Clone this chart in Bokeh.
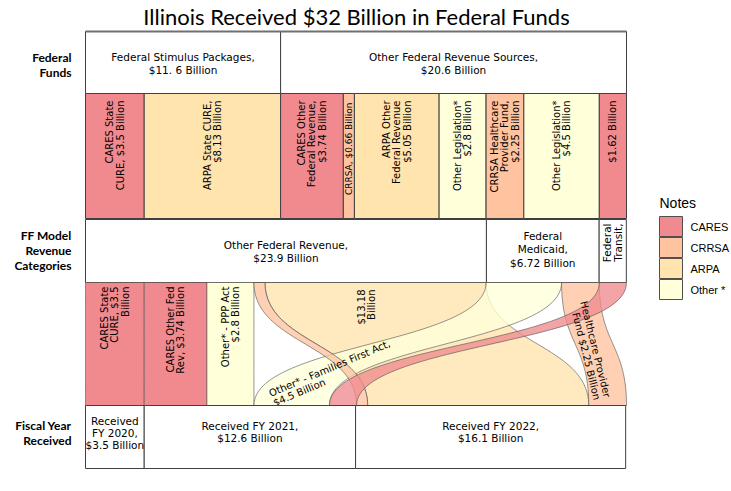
import numpy as np
from bokeh.plotting import figure
from bokeh.models import Range1d
from bokeh.embed import file_html
from bokeh.resources import INLINE
from bokeh.core.properties import value

# ---------------- data ----------------
chart_title = "Illinois Received $32 Billion in Federal Funds"
row_labels = ["Federal\nFunds", "FF Model\nRevenue\nCategories", "Fiscal Year\nReceived"]

fund_labels = ["Federal Stimulus Packages,\n$11. 6 Billion",
               "Other Federal Revenue Sources,\n$20.6 Billion"]
fund_values = [11.63, 20.62]

leg_labels = ["CARES State\nCURE, $3.5 Billion",
              "ARPA State CURE,\n$8.13 Billion",
              "CARES Other\nFederal Revenue,\n$3.74 Billion",
              "CRRSA, $0.66 Billion",
              "ARPA Other\nFederal Revenue\n$5.05 Billion",
              "Other Legislation*\n$2.8 Billion",
              "CRRSA Healthcare\nProvider Fund,\n$2.25 Billion",
              "Other Legislation*\n$4.5 Billion",
              "$1.62 Billion"]
leg_values = [3.5, 8.13, 3.74, 0.66, 5.05, 2.8, 2.25, 4.5, 1.62]
leg_program = ["CARES", "ARPA", "CARES", "CRRSA", "ARPA", "Other *", "CRRSA", "Other *", "CARES"]

cat_labels = ["Other Federal Revenue,\n$23.9 Billion",
              "Federal\nMedicaid,\n$6.72 Billion",
              "Federal\nTransit,"]
cat_values = [23.9, 6.72, 1.62]

flow_labels = ["CARES State\nCURE, $3.5\nBillion",
               "CARES Other Fed\nRev, $3.74 Billion",
               "Other* - PPP Act\n$2.8 Billion",
               "",
               "$13.18\nBillion",
               "Other* - Families First Act,\n$4.5 Billion",
               "Healthcare Provider\nFund $2.25 Billion",
               ""]
flow_values = [3.5, 3.74, 2.8, 0.66, 13.18, 4.5, 2.25, 1.62]
flow_program = ["CARES", "CARES", "Other *", "CRRSA", "ARPA", "Other *", "CRRSA", "CARES"]
flow_year = ["FY 2020", "FY 2021", "FY 2021", "FY 2022", "FY 2022", "FY 2021", "FY 2022", "FY 2021"]
flow_bottom_order = [0, 1, 2, 5, 7, 3, 4, 6]
flow_draw_order = [0, 1, 2, 4, 5, 3, 6, 7]

fy_labels = ["Received\nFY 2020,\n$3.5 Billion",
             "Received FY 2021,\n$12.6 Billion",
             "Received FY 2022,\n$16.1 Billion"]
fy_values = [3.5, 12.6, 16.1]

legend_title = "Notes"
programs = ["CARES", "CRRSA", "ARPA", "Other *"]
program_colors = {"CARES": "#F08A8E", "CRRSA": "#FFC39F", "ARPA": "#FFE4AE", "Other *": "#FFFFDA"}

# ---------------- layout ----------------
W, H = 731, 491
LEFT_PX, RIGHT_PX = 85, 626
total = sum(leg_values)
scale = (RIGHT_PX - LEFT_PX) / total  # px per billion


def X(px):
    return (px - LEFT_PX) / scale


rows = [(31, 93), (93, 218), (219, 282), (282, 405), (405, 468)]
EDGE = "#404040"
BODY_FONT = value("DejaVu Sans")

p = figure(width=W, height=H, output_backend="svg", toolbar_location=None,
           x_range=Range1d(X(0), X(W)), y_range=Range1d(H, 0),
           min_border=0, background_fill_color="white", border_fill_color="white")
p.axis.visible = False
p.xgrid.visible = False
p.ygrid.visible = False
p.outline_line_color = None


def cum(vals):
    c = np.concatenate([[0], np.cumsum(vals)])
    return c[:-1], c[1:]


# title
p.text(x=[X(356)], y=[16], text=[chart_title], text_font=value("Lato"),
       text_font_size="22px", text_align="center", text_baseline="middle", text_color="#000000")

# row labels
p.text(x=[X(71)] * 3, y=[64, 250, 432], text=row_labels, text_font=value("Lato"),
       text_font_style="bold", text_font_size="12px", text_align="right",
       text_baseline="middle", text_line_height=1.0, text_color="#000000")

# row 1
l, r = cum(fund_values)
p.quad(left=l, right=r, top=rows[0][0], bottom=rows[0][1], fill_color="white",
       line_color=EDGE, line_width=1)
p.line(x=[l[0], r[-1]], y=[rows[0][0], rows[0][0]], line_color="#707070", line_width=2)
p.text(x=(l + r) / 2, y=[63] * 2, text=fund_labels, text_font=BODY_FONT, text_font_size="10.5px",
       text_align="center", text_baseline="middle", text_line_height=1.15, text_color="#000000")

# row 2
l, r = cum(leg_values)
p.quad(left=l, right=r, top=rows[1][0], bottom=rows[1][1],
       fill_color=[program_colors[g] for g in leg_program], line_color=EDGE, line_width=1)
big = [i for i in range(len(leg_values)) if leg_values[i] >= 1]
small = [i for i in range(len(leg_values)) if leg_values[i] < 1]
p.text(x=[(l[i] + r[i]) / 2 for i in big], y=[100] * len(big), text=[leg_labels[i] for i in big],
       angle=np.pi / 2, text_font=BODY_FONT, text_font_size="10px", text_align="right",
       text_baseline="middle", text_line_height=0.95, text_color="#000000")
p.text(x=[(l[i] + r[i]) / 2 for i in small], y=[102] * len(small), text=[leg_labels[i] for i in small],
       angle=np.pi / 2, text_font=BODY_FONT, text_font_size="9px", text_align="right",
       text_baseline="middle", text_color="#000000")

# row 3
l, r = cum(cat_values)
p.quad(left=l, right=r, top=rows[2][0], bottom=rows[2][1], fill_color="white",
       line_color=EDGE, line_width=1)
p.text(x=((l + r) / 2)[:2], y=[251, 249], text=cat_labels[:2], text_font=BODY_FONT,
       text_font_size="10.5px", text_align="center", text_baseline="middle",
       text_line_height=1.15, text_color="#000000")
p.text(x=[(l[2] + r[2]) / 2], y=[223], text=[cat_labels[2]], angle=np.pi / 2, text_font=BODY_FONT,
       text_font_size="10.5px", text_align="right", text_baseline="middle",
       text_line_height=0.95, text_color="#000000")

# row 4: flows
ft_l, ft_r = cum(flow_values)
fb_l = np.zeros(len(flow_values))
acc = 0.0
for i in flow_bottom_order:
    fb_l[i] = acc
    acc += flow_values[i]
fb_r = fb_l + np.array(flow_values)

y0, y1 = rows[3]
ym = (y0 + y1) / 2
t = np.linspace(0, 1, 60)
b0, b1, b2, b3 = (1 - t) ** 3, 3 * (1 - t) ** 2 * t, 3 * (1 - t) * t ** 2, t ** 3
yy = b0 * y0 + b1 * ym + b2 * ym + b3 * y1


def edge(xa, xb):
    return b0 * xa + b1 * xa + b2 * xb + b3 * xb


xs, ys, cols, alphas = [], [], [], []
for i in flow_draw_order:
    le = edge(ft_l[i], fb_l[i])
    re = edge(ft_r[i], fb_r[i])
    xs.append(np.concatenate([le, re[::-1]]))
    ys.append(np.concatenate([yy, yy[::-1]]))
    cols.append(program_colors[flow_program[i]])
    alphas.append(1.0 if abs(ft_l[i] - fb_l[i]) < 1e-9 else 0.78)
p.patches(xs=xs, ys=ys, fill_color=cols, fill_alpha=alphas, line_color="#505050",
          line_alpha=0.6, line_width=1)

straight = [0, 1, 2]
p.text(x=[(ft_l[i] + ft_r[i]) / 2 for i in straight], y=[286] * 3,
       text=[flow_labels[i] for i in straight], angle=np.pi / 2, text_font=BODY_FONT,
       text_font_size="10px", text_align="right", text_baseline="middle",
       text_line_height=0.95, text_color="#000000")
# ARPA label
p.text(x=[(ft_l[4] + ft_r[4]) / 2 - 0.55], y=[289], text=[flow_labels[4]], angle=np.pi / 2,
       text_font=BODY_FONT, text_font_size="10px", text_align="right", text_baseline="middle",
       text_line_height=0.95, text_color="#000000")
# Families First label
p.text(x=[fb_l[5] + 1.05], y=[y1 - 7], text=[flow_labels[5]], angle=0.40,
       text_font=BODY_FONT, text_font_size="10px", text_align="left", text_baseline="middle",
       text_line_height=0.95, text_color="#000000")
# Healthcare label
p.text(x=[fb_r[6] - 1.45], y=[y1 - 7], text=[flow_labels[6]], angle=-1.33,
       text_font=BODY_FONT, text_font_size="10px", text_align="right", text_baseline="middle",
       text_line_height=0.95, text_color="#000000")

# row 5
l, r = cum(fy_values)
p.quad(left=l, right=r, top=rows[4][0], bottom=rows[4][1], fill_color="white",
       line_color=EDGE, line_width=1)
p.text(x=(l + r) / 2, y=[432, 431, 431], text=fy_labels, text_font=BODY_FONT,
       text_font_size="10.5px", text_align="center", text_baseline="middle",
       text_line_height=1.0, text_color="#000000")

# legend
p.text(x=[X(659)], y=[202], text=[legend_title], text_font=value("Liberation Sans"),
       text_font_size="14px", text_align="left", text_baseline="middle", text_color="#000000")
lt = np.array([216, 237, 258, 279])
p.quad(left=[X(659)] * 4, right=[X(682)] * 4, top=lt, bottom=lt + 20,
       fill_color=[program_colors[g] for g in programs], line_color="#505050", line_width=1)
p.text(x=[X(690)] * 4, y=lt + 10, text=programs, text_font=value("Liberation Sans"),
       text_font_size="11px", text_align="left", text_baseline="middle", text_color="#000000")

open("out.html", "w").write(file_html(p, INLINE))
